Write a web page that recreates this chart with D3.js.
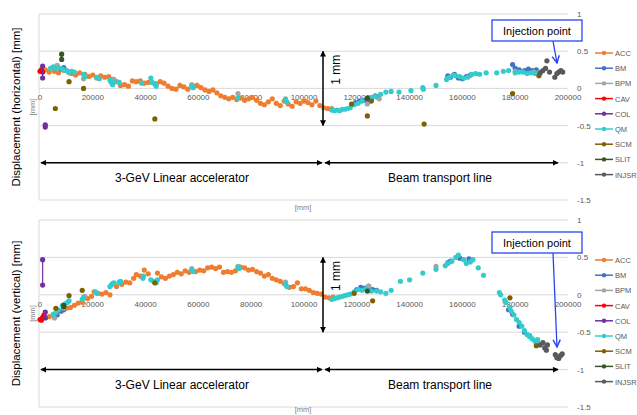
<!DOCTYPE html>
<html>
<head>
<meta charset="utf-8">
<script src="https://cdn.jsdelivr.net/npm/d3@7"></script>
<style>
    body { margin: 0; background: #fff; }
    text { font-family: 'Liberation Sans', Arial, sans-serif; }
</style>
</head>
<body>
<div id="chart"></div>
<script>
// series names and colours
const seriesNames = ['ACC', 'BM', 'BPM', 'CAV', 'COL', 'QM', 'SCM', 'SLIT', 'INJSR'];
const seriesColors = ['#ED7D31', '#4472C4', '#A5A5A5', '#FF0000', '#7030A0', '#33CCCC', '#7F6000', '#375623', '#595959'];

const xTicks = [0, 20000, 40000, 60000, 80000, 100000, 120000, 140000, 160000, 180000, 200000];
const yTicks = [1, 0.5, 0, -0.5, -1, -1.5];

// horizontal displacement [x mm, y mm]
const accH = [[500,0.24],[2000,0.25],[3500,0.22],[5500,0.23],[7000,0.21],[12000,0.2],[13500,0.18],[15000,0.21],[17000,0.19],[18500,0.16],[20000,0.18],[21500,0.14],[23000,0.17],[24500,0.15],[26000,0.16],[27500,0.12],[29000,0.09],[30500,0.04],[32000,0.05],[33500,0.03],[35000,0.1],[36500,0.09],[38000,0.1],[39500,0.07],[41000,0.08],[44000,0.06],[45500,0.09],[47000,0.07],[48500,0.03],[50000,0.0],[51500,-0.01],[53000,0.04],[54500,0.02],[56000,-0.01],[58000,0.03],[59500,0.04],[61000,0.01],[62500,-0.02],[64000,-0.04],[65500,-0.02],[67000,-0.06],[68500,-0.1],[70000,-0.12],[71500,-0.14],[73000,-0.12],[74500,-0.15],[76000,-0.13],[77500,-0.16],[79000,-0.14],[80500,-0.12],[82000,-0.16],[83500,-0.2],[85000,-0.22],[86500,-0.18],[88000,-0.14],[89500,-0.2],[91000,-0.23],[92500,-0.17],[94000,-0.21],[95500,-0.24],[97000,-0.18],[98500,-0.2],[100000,-0.17],[101500,-0.19],[103000,-0.22],[104500,-0.17],[106000,-0.23],[107500,-0.26],[109000,-0.27],[110500,-0.27]];
const bmH = [[8000,0.26],[9000,0.28],[10000,0.24],[11500,0.22],[119500,-0.19],[121000,-0.17],[122500,-0.16],[124000,-0.17],[125500,-0.15],[127000,-0.1],[128000,-0.12],[154500,0.17],[155500,0.15],[157000,0.19],[158500,0.14],[160000,0.13],[161500,0.16],[163000,0.18],[179000,0.32],[180000,0.27],[181500,0.25],[183500,0.24],[185000,0.26],[186500,0.24],[188000,0.25]];
const bpmH = [[6500,0.31],[9000,0.24],[11000,0.21],[16500,0.13],[28000,0.12],[57500,0.05],[75000,-0.07],[93000,-0.14],[124000,-0.21],[128500,-0.14],[180000,0.23],[187000,0.22]];
const cavH = [[0,0.23],[500,0.25],[1000,0.22]];
const colH = [[1000,0.3],[1000,0.14],[2000,-0.49],[2000,-0.52]];
const qmH = [[4000,0.27],[5000,0.29],[6000,0.27],[7000,0.28],[8500,0.26],[10000,0.24],[11000,0.22],[12000,0.23],[13000,0.22],[16500,0.19],[17000,0.16],[21500,0.15],[22500,0.13],[26500,0.11],[27000,0.08],[27500,0.05],[28000,0.09],[30000,0.08],[38500,0.07],[42000,0.14],[42500,0.08],[43500,0.06],[44000,0.03],[57500,0.03],[58000,0.01],[75000,-0.13],[93000,-0.15],[93500,-0.18],
    [110500,-0.29],[111500,-0.3],[112500,-0.29],[113500,-0.3],[114500,-0.28],[115500,-0.28],[116500,-0.27],[117500,-0.26],[119000,-0.22],[120500,-0.2],[122000,-0.17],[125500,-0.12],[127000,-0.11],[129000,-0.08],[131000,-0.05],[133000,-0.04],[136000,-0.05],[140500,-0.03],[145000,0.01],[145200,-0.01],[150000,0.04],[154000,0.12],[155000,0.15],[156500,0.18],[157500,0.17],[159000,0.16],[160500,0.14],[162000,0.15],[163500,0.19],[165000,0.2],[166500,0.19],[169000,0.21],[173000,0.21],[175500,0.23],[177500,0.24],[180000,0.21],[181500,0.22],[183000,0.22],[184500,0.2],[186000,0.21],[187500,0.2],[189000,0.22]];
const scmH = [[5800,-0.27],[11000,0.09],[16500,0.0],[43500,-0.41],[118000,-0.21],[124000,-0.37],[125500,-0.17],[145500,-0.48],[179000,-0.07],[189000,0.17]];
const slitH = [[8200,0.46],[8200,0.39],[124000,-0.13]];
const injsrH = [[189500,0.21],[190500,0.24],[191500,0.27],[192000,0.37],[193000,0.22],[195000,0.15],[195800,0.2],[196500,0.22],[197300,0.24],[198000,0.22]];

// vertical displacement [x mm, y mm]
const accV = [[2500,-0.3],[3500,-0.29],[5000,-0.27],[6500,-0.22],[10000,-0.18],[11500,-0.17],[13000,-0.14],[14500,-0.11],[16000,-0.1],[18000,-0.05],[19500,-0.02],[20500,0.04],[22000,0.02],[23500,0.01],[25000,0.03],[26500,0.0],[29000,0.11],[31000,0.14],[32500,0.17],[34000,0.16],[35500,0.22],[36500,0.27],[38000,0.25],[39500,0.33],[41000,0.28],[44500,0.29],[46000,0.24],[47500,0.22],[49000,0.25],[50500,0.27],[52000,0.3],[53500,0.28],[55000,0.32],[56500,0.3],[59000,0.31],[60500,0.33],[62000,0.32],[63500,0.36],[65000,0.37],[66500,0.35],[68000,0.37],[69500,0.3],[71000,0.31],[72500,0.3],[74000,0.32],[76000,0.37],[77500,0.36],[79000,0.33],[80500,0.34],[82000,0.31],[83500,0.29],[85000,0.25],[86500,0.27],[88000,0.22],[89500,0.2],[91000,0.18],[92500,0.15],[94500,0.1],[96000,0.11],[97500,0.16],[99000,0.08],[100500,0.08],[102000,0.06],[103500,0.03],[105000,0.02],[106500,0.01],[108000,-0.03],[109500,-0.04],[111000,-0.03]];
const bmV = [[6500,-0.27],[8000,-0.22],[9000,-0.2],[120000,0.07],[121500,0.1],[123000,0.09],[124500,0.11],[126000,0.07],[127500,0.06],[154500,0.43],[155500,0.45],[159000,0.49],[162500,0.48],[177500,-0.2],[179000,-0.26],[181500,-0.42],[183500,-0.5],[185500,-0.55]];
const bpmV = [[5500,-0.31],[9000,-0.18],[17000,-0.02],[30000,0.17],[57500,0.35],[75000,0.38],[93000,0.17],[124500,0.12],[150000,0.38],[188500,-0.6]];
const cavV = [[0,-0.33],[500,-0.34],[1000,-0.3],[1500,-0.27]];
const colV = [[1000,0.47],[1000,0.13],[2000,-0.23],[2000,-0.31]];
const qmV = [[5000,-0.26],[6000,-0.24],[7000,-0.2],[8500,-0.14],[9500,-0.12],[10500,-0.1],[11000,-0.08],[16000,-0.06],[16500,-0.03],[21000,0.04],[21500,0.02],[26500,0.11],[27000,0.13],[27500,0.15],[28000,0.16],[30000,0.16],[30500,0.18],[39000,0.22],[39200,0.25],[42000,0.2],[43000,0.18],[44000,0.16],[44500,0.2],[57500,0.33],[58000,0.31],[75000,0.37],[75500,0.35],[93000,0.14],[93500,0.11],
    [110500,-0.06],[111500,-0.05],[112500,-0.04],[113500,-0.03],[114500,-0.02],[115500,-0.01],[116500,0.0],[117500,0.01],[119000,0.04],[120500,0.07],[122000,0.06],[123500,0.08],[125500,0.05],[127500,0.05],[129000,0.04],[131000,0.02],[133000,0.06],[136500,0.18],[140000,0.2],[145000,0.29],[150000,0.34],[153500,0.39],[154500,0.42],[156000,0.45],[157500,0.5],[158500,0.53],[160500,0.47],[161500,0.42],[163000,0.44],[164000,0.47],[166000,0.36],[168000,0.26],[174000,0.03],[174500,0.0],[176000,-0.07],[176500,-0.1],[178000,-0.17],[178500,-0.22],[179500,-0.27],[180500,-0.33],[181500,-0.37],[182500,-0.42],[183500,-0.48],[184500,-0.53],[185500,-0.56],[186500,-0.59],[187500,-0.62],[188500,-0.61]];
const scmV = [[6000,-0.18],[11000,-0.01],[16000,0.06],[43500,0.16],[119000,0.02],[126000,-0.08],[178000,-0.04],[188000,-0.68]];
const slitV = [[9000,-0.16],[9000,-0.14],[124000,0.05]];
const injsrV = [[189500,-0.67],[190500,-0.64],[191200,-0.71],[191800,-0.74],[192200,-0.67],[195200,-0.8],[195800,-0.84],[196500,-0.85],[197200,-0.81],[197800,-0.79]];

const seriesH = [accH, bmH, bpmH, cavH, colH, qmH, scmH, slitH, injsrH];
const seriesV = [accV, bmV, bpmV, cavV, colV, qmV, scmV, slitV, injsrV];

const width = 637, height = 415;
const svg = d3.select('#chart').append('svg')
    .attr('width', width)
    .attr('height', height);

// arrowheads
const defs = svg.append('defs');
defs.append('marker')
    .attr('id', 'blackHead')
    .attr('viewBox', '0 0 10 10')
    .attr('refX', 9).attr('refY', 5)
    .attr('markerWidth', 6).attr('markerHeight', 6)
    .attr('markerUnits', 'userSpaceOnUse')
    .attr('orient', 'auto-start-reverse')
    .append('path')
    .attr('d', 'M0,0 L10,5 L0,10 z')
    .attr('fill', '#000');
defs.append('marker')
    .attr('id', 'blueHead')
    .attr('viewBox', '0 0 10 10')
    .attr('refX', 9).attr('refY', 5)
    .attr('markerWidth', 9).attr('markerHeight', 9)
    .attr('markerUnits', 'userSpaceOnUse')
    .attr('orient', 'auto')
    .append('path')
    .attr('d', 'M1,1 L9,5 L1,9')
    .attr('fill', 'none')
    .attr('stroke', '#2646F5')
    .attr('stroke-width', 1.6);

const xScale = d3.scaleLinear().domain([0, 200000]).range([40, 568]);

function drawPanel(cfg) {
    let yScale = d3.scaleLinear().domain([-1.5, 1]).range([cfg.bottom, cfg.top]);
    let g = svg.append('g');

    // gridlines
    g.selectAll('.grid')
        .data(yTicks)
        .join('line')
        .attr('x1', 39).attr('x2', 568)
        .attr('y1', d => yScale(d)).attr('y2', d => yScale(d))
        .attr('stroke', '#D9D9D9');
    g.append('line')
        .attr('x1', 39).attr('x2', 39)
        .attr('y1', cfg.top).attr('y2', cfg.bottom)
        .attr('stroke', '#D9D9D9');

    // y labels on the right
    g.selectAll('.ylab')
        .data(yTicks)
        .join('text')
        .attr('x', 577)
        .attr('y', d => yScale(d) + 3)
        .attr('font-size', 8)
        .attr('fill', '#595959')
        .text(d => d);

    // x labels along zero line
    g.selectAll('.xlab')
        .data(xTicks)
        .join('text')
        .attr('x', d => xScale(d))
        .attr('y', yScale(0) + 12)
        .attr('text-anchor', 'middle')
        .attr('font-size', 8)
        .attr('fill', '#595959')
        .text(d => d);

    // axis titles
    g.append('text')
        .attr('transform', `translate(20,${(cfg.top + cfg.bottom) / 2}) rotate(-90)`)
        .attr('text-anchor', 'middle')
        .attr('font-size', 11.5)
        .attr('fill', '#000')
        .text(cfg.title);
    g.append('text')
        .attr('transform', `translate(35,${yScale(-0.25)}) rotate(-90)`)
        .attr('text-anchor', 'middle')
        .attr('font-size', 7.5)
        .attr('fill', '#7F7F7F')
        .text('[mm]');
    g.append('text')
        .attr('x', 303).attr('y', Math.min(cfg.bottom + 10, 412))
        .attr('text-anchor', 'middle')
        .attr('font-size', 7.5)
        .attr('fill', '#7F7F7F')
        .text('[mm]');

    // series points, connecting lines for COL / SLIT pairs
    cfg.series.forEach((data, i) => {
        let color = seriesColors[i];
        if (seriesNames[i] === 'COL' || seriesNames[i] === 'SLIT') {
            let groups = d3.groups(data, d => d[0]).filter(gr => gr[1].length > 1);
            g.selectAll(null)
                .data(groups)
                .join('path')
                .attr('d', gr => d3.line().x(d => xScale(d[0])).y(d => yScale(d[1]))(gr[1]))
                .attr('stroke', color)
                .attr('stroke-width', 1.2)
                .attr('fill', 'none');
        }
        g.selectAll(null)
            .data(data)
            .join('circle')
            .attr('cx', d => xScale(d[0]))
            .attr('cy', d => yScale(d[1]))
            .attr('r', 2.6)
            .attr('fill', color);
    });

    // legend
    let leg = g.selectAll('.legend')
        .data(seriesNames)
        .join('g')
        .attr('transform', (d, i) => `translate(595,${cfg.legendTop + i * 15.2})`);
    leg.append('line')
        .attr('x1', 0).attr('x2', 18)
        .attr('stroke', (d, i) => seriesColors[i])
        .attr('stroke-width', 1.5);
    leg.append('circle')
        .attr('cx', 9).attr('r', 2.2)
        .attr('fill', (d, i) => seriesColors[i]);
    leg.append('text')
        .attr('x', 20).attr('y', 3)
        .attr('font-size', 7.5)
        .attr('fill', '#595959')
        .text(d => d);

    // 1 mm bar
    g.append('line')
        .attr('x1', 323).attr('x2', 323)
        .attr('y1', yScale(0.5)).attr('y2', yScale(-0.5))
        .attr('stroke', '#000').attr('stroke-width', 1.5)
        .attr('marker-start', 'url(#blackHead)')
        .attr('marker-end', 'url(#blackHead)');
    g.append('text')
        .attr('transform', `translate(340,${yScale(0.25)}) rotate(-90)`)
        .attr('text-anchor', 'middle')
        .attr('font-size', 12)
        .text('1 mm');

    // section arrows
    let ay = yScale(-1);
    g.append('line')
        .attr('x1', 41).attr('x2', 322)
        .attr('y1', ay).attr('y2', ay)
        .attr('stroke', '#000').attr('stroke-width', 1.5)
        .attr('marker-start', 'url(#blackHead)')
        .attr('marker-end', 'url(#blackHead)');
    g.append('line')
        .attr('x1', 325).attr('x2', 558)
        .attr('y1', ay).attr('y2', ay)
        .attr('stroke', '#000').attr('stroke-width', 1.5)
        .attr('marker-start', 'url(#blackHead)')
        .attr('marker-end', 'url(#blackHead)');
    g.append('text')
        .attr('x', 182).attr('y', ay + 19)
        .attr('text-anchor', 'middle')
        .attr('font-size', 12)
        .text('3-GeV Linear accelerator');
    g.append('text')
        .attr('x', 440).attr('y', ay + 19)
        .attr('text-anchor', 'middle')
        .attr('font-size', 12)
        .text('Beam transport line');

    // injection point callout
    g.append('line')
        .attr('x1', 553).attr('y1', cfg.boxTop + 21)
        .attr('x2', cfg.arrowEnd[0]).attr('y2', cfg.arrowEnd[1])
        .attr('stroke', '#2646F5').attr('stroke-width', 1.3)
        .attr('marker-end', 'url(#blueHead)');
    g.append('rect')
        .attr('x', 492).attr('y', cfg.boxTop)
        .attr('width', 90).attr('height', 21)
        .attr('fill', '#fff')
        .attr('stroke', '#2646F5').attr('stroke-width', 1.3);
    g.append('text')
        .attr('x', 537).attr('y', cfg.boxTop + 15)
        .attr('text-anchor', 'middle')
        .attr('font-size', 11)
        .text('Injection point');
}

drawPanel({
    top: 14, bottom: 200, legendTop: 53,
    title: 'Displacement (horizontal) [mm]',
    series: seriesH, boxTop: 20, arrowEnd: [557, 63]
});
drawPanel({
    top: 220, bottom: 407, legendTop: 260,
    title: 'Displacement (vertical) [mm]',
    series: seriesV, boxTop: 232, arrowEnd: [557, 347]
});
</script>
</body>
</html>
